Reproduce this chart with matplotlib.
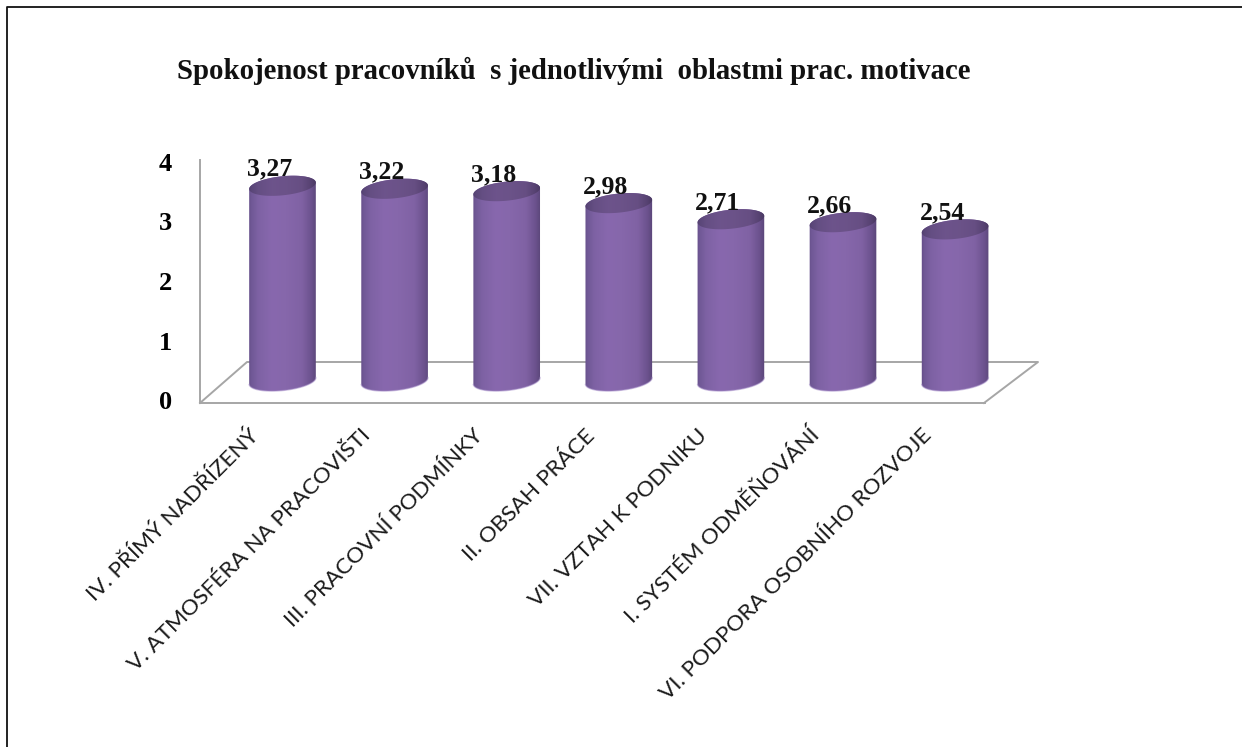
import numpy as np
import matplotlib
matplotlib.use("Agg")
import matplotlib.pyplot as plt
from matplotlib.patches import Polygon
from matplotlib.transforms import ScaledTranslation

categorias = ['IV. PŘÍMÝ NADŘÍZENÝ', 'V. ATMOSFÉRA NA PRACOVIŠTI', 'III. PRACOVNÍ PODMÍNKY',
              'II. OBSAH PRÁCE', 'VII. VZTAH K PODNIKU', 'I. SYSTÉM ODMĚŇOVÁNÍ',
              'VI. PODPORA OSOBNÍHO ROZVOJE']
hodnoty = [3.27, 3.22, 3.18, 2.98, 2.71, 2.66, 2.54]
popisky = ['3,27', '3,22', '3,18', '2,98', '2,71', '2,66', '2,54']
y_ticks = [0, 1, 2, 3, 4]
titulek = 'Spokojenost pracovníků  s jednotlivými  oblastmi prac. motivace'

W, H = 1242, 747
SERIF = 'Liberation Serif'
GREY = '#a6a6a6'
px_x = 112.1   # pixels per category
px_y = 59.7    # pixels per value unit


def rect(x0, y0, x1, y1):
    # pixel box (y from the top) to figure fractions
    return [x0 / W, 1 - y1 / H, (x1 - x0) / W, (y1 - y0) / H]


fig = plt.figure(figsize=(W / 100, H / 100), dpi=100, facecolor='white')

# frame, only top and left edge are inside the picture
fig.add_artist(plt.Line2D([7 / W, 7 / W, 1], [0, 1 - 6.5 / H, 1 - 6.5 / H], color='#111111', lw=1.3))

# back wall, real y axis
wall = fig.add_axes(rect(200, 160, 985, 403), zorder=1)
wall.patch.set_alpha(0)
wall.set_xlim(0, 1)
wall.set_ylim(-3 / 59.5, 4 + 2 / 59.5)
wall.set_yticks(y_ticks)
wall.set_yticklabels([str(v) for v in y_ticks], fontfamily=SERIF, fontweight='bold', fontsize=19)
wall.tick_params(axis='y', length=0, pad=20)
wall.set_xticks([])
for s in ['top', 'right']:
    wall.spines[s].set_visible(False)
for s in ['left', 'bottom']:
    wall.spines[s].set_color(GREY)
    wall.spines[s].set_linewidth(1.4)

# floor outline in wall fractions
fx = lambda p: (p - 200) / 785
fy = lambda p: (403 - p) / 243
wall.plot([fx(200), fx(247), fx(1038), fx(984)], [fy(403), fy(362), fy(362), fy(403)],
          color=GREY, lw=1.4, transform=wall.transAxes, clip_on=False)

# bars
ax = fig.add_axes(rect(200, 160, 1040, 403), zorder=2)
ax.patch.set_alpha(0)
for s in ax.spines.values():
    s.set_visible(False)
x = np.arange(len(hodnoty))
ax.set_yticks([])
ax.set_xticks(x)
ax.set_xticklabels(categorias, rotation=45, ha='right', va='top', rotation_mode='anchor',
                   fontfamily='Lato', fontsize=16.2, color='#1a1a1a')
ax.tick_params(axis='x', length=0, pad=16)
posun = ScaledTranslation(-34 / 100, 0, fig.dpi_scale_trans)
for lab in ax.get_xticklabels():
    lab.set_transform(lab.get_transform() + posun)

grad = np.array([0.00, 0.05, 0.15, 0.35, 0.55, 0.78, 0.92, 1.00])
r = np.array([0x62, 0x70, 0x7e, 0x88, 0x86, 0x80, 0x6c, 0x5a])
g = np.array([0x4c, 0x58, 0x62, 0x68, 0x67, 0x62, 0x52, 0x46])
b = np.array([0x86, 0x96, 0xa4, 0xae, 0xab, 0xa4, 0x8e, 0x78])
u = np.linspace(0, 1, 200)
img_body = np.dstack([np.interp(u, grad, c) / 255 for c in (r, g, b)])
img_cap = img_body * 0.8

a_px, b_px, tilt = 33.5, 9.5, np.radians(6)


def elipsa(cx, cy, t):
    # tilted ellipse, px offsets converted to data units
    dx = a_px * np.cos(t) * np.cos(tilt) - b_px * np.sin(t) * np.sin(tilt)
    dy = a_px * np.cos(t) * np.sin(tilt) + b_px * np.sin(t) * np.cos(tilt)
    return np.column_stack([cx + dx / px_x, cy + dy / px_y])


w = (a_px + 1) / px_x
for xi, v, txt in zip(x, hodnoty, popisky):
    t_top = np.linspace(0, np.pi, 40)
    t_bot = np.linspace(np.pi, 2 * np.pi, 40)
    body = Polygon(np.vstack([elipsa(xi, v, t_top), elipsa(xi, 0, t_bot)]), closed=True,
                   transform=ax.transData, fc='none', ec='none')
    ax.add_patch(body)
    im = ax.imshow(img_body, extent=[xi - w, xi + w, -0.3, v + 0.3], aspect='auto', zorder=3)
    im.set_clip_path(body)
    # pale rim under the bar
    ax.plot(*elipsa(xi, 0, t_bot).T, color='#a48cc8', lw=1.0, alpha=0.5, zorder=4)
    cap = Polygon(elipsa(xi, v, np.linspace(0, 2 * np.pi, 80)), closed=True,
                  transform=ax.transData, fc='none', ec='none')
    ax.add_patch(cap)
    im2 = ax.imshow(img_cap, extent=[xi - w, xi + w, v - 0.3, v + 0.3], aspect='auto', zorder=5)
    im2.set_clip_path(cap)
    ax.annotate(txt, (xi, v), xytext=(-13 * 0.72, 10 * 0.72), textcoords='offset points',
                ha='center', va='baseline', fontfamily=SERIF, fontweight='bold', fontsize=18.5,
                color='#111111', zorder=6, annotation_clip=False)

ax.set_xlim((200 - 282.5) / px_x, (1040 - 282.5) / px_x)
ax.set_ylim((381 - 403) / px_y, (381 - 160) / px_y)

fig.text(574 / W, 1 - 71 / H, titulek, ha='center', va='center', fontfamily=SERIF,
         fontweight='bold', fontsize=20.7, color='#111111')

fig.savefig('out.png', dpi=100)
